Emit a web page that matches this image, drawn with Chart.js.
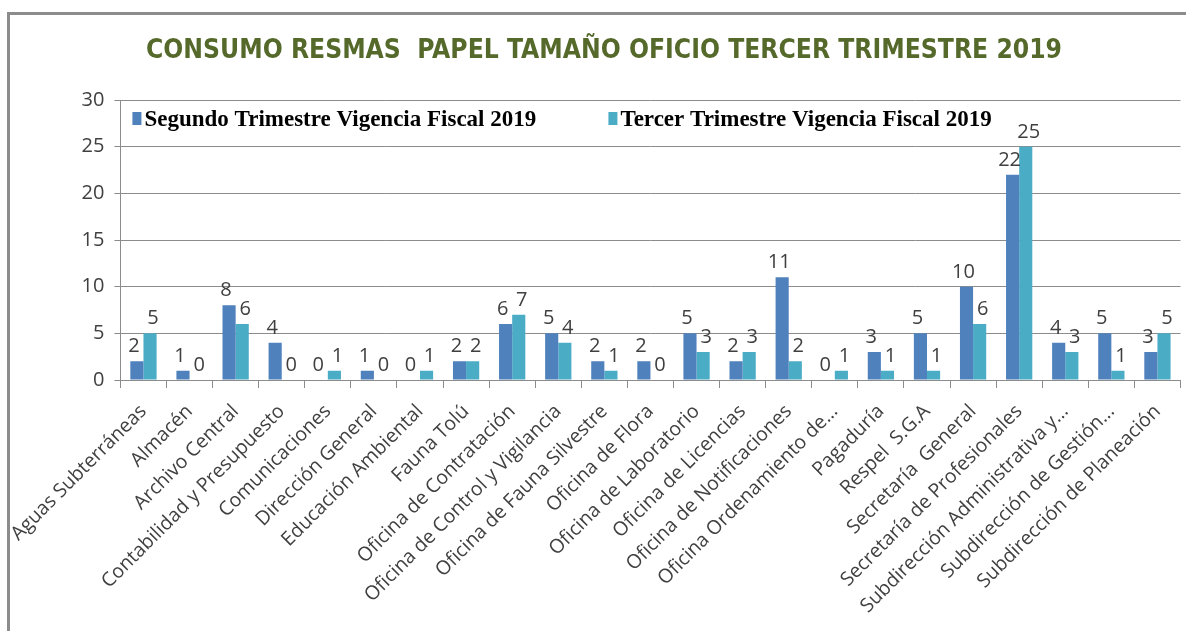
<!DOCTYPE html>
<html>
<head>
<meta charset="utf-8">
<title>Consumo resmas papel tamaño oficio</title>
<script src="https://cdn.jsdelivr.net/npm/chart.js"></script>
<style>
    body { margin: 0; background: #fff; overflow: hidden; }
    #frame { position: absolute; left: 7px; top: 12px; width: 1300px; height: 700px;
             border-left: 3px solid #8c8c8c; border-top: 3px solid #8c8c8c; }
    #chart { position: absolute; left: 0; top: 0; }
</style>
</head>
<body>
<div id="frame"></div>
<canvas id="chart" width="1186" height="631"></canvas>

<script>
    const categories = [
        'Aguas Subterráneas', 'Almacén', 'Archivo Central', 'Contabilidad y Presupuesto',
        'Comunicaciones', 'Dirección General', 'Educación Ambiental', 'Fauna Tolú',
        'Oficina de Contratación', 'Oficina de Control y Vigilancia', 'Oficina de Fauna Silvestre',
        'Oficina de Flora', 'Oficina de Laboratorio', 'Oficina de Licencias',
        'Oficina de Notificaciones', 'Oficina Ordenamiento de...', 'Pagaduría', 'Respel  S.G.A',
        'Secretaría  General', 'Secretaría de Profesionales', 'Subdirección Administrativa y...',
        'Subdirección de Gestión...', 'Subdirección de Planeación'
    ];
    const segundo = [2, 1, 8, 4, 0, 1, 0, 2, 6, 5, 2, 2, 5, 2, 11, 0, 3, 5, 10, 22, 4, 5, 3];
    const tercer  = [5, 0, 6, 0, 1, 0, 1, 2, 7, 4, 1, 0, 3, 3, 2, 1, 1, 1, 6, 25, 3, 1, 5];
    const seriesNames = ['Segundo Trimestre Vigencia Fiscal 2019', 'Tercer Trimestre Vigencia Fiscal 2019'];
    const chartTitle = 'CONSUMO RESMAS  PAPEL TAMAÑO OFICIO TERCER TRIMESTRE 2019';

    const textColor = '#404040';
    const gridColor = '#8c8c8c';
    const labelFont = '"Open Sans", sans-serif';

    // condensed bold title, squeezed to the width of the original
    const narrowTitle = {
        id: 'narrowTitle',
        afterDraw(chart) {
            const ctx = chart.ctx;
            ctx.save();
            ctx.font = 'bold 27px "DejaVu Sans Condensed", "DejaVu Sans", sans-serif';
            const w = ctx.measureText(chartTitle).width;
            ctx.translate(604, 58);
            ctx.scale(916 / w, 1);
            ctx.fillStyle = '#55692B';
            ctx.textAlign = 'center';
            ctx.textBaseline = 'alphabetic';
            ctx.fillText(chartTitle, 0, 0);
            ctx.restore();
        }
    };

    // value labels above every bar
    const valueLabels = {
        id: 'valueLabels',
        afterDatasetsDraw(chart) {
            const ctx = chart.ctx;
            ctx.save();
            ctx.font = '20px ' + labelFont;
            ctx.fillStyle = textColor;
            ctx.textAlign = 'center';
            ctx.textBaseline = 'alphabetic';
            chart.data.datasets.forEach((ds, i) => {
                chart.getDatasetMeta(i).data.forEach((bar, j) => {
                    ctx.fillText(String(ds.data[j]), bar.x + (i === 0 ? -3 : 3), bar.y - 9);
                });
            });
            ctx.restore();
        }
    };

    // legend sits inside the plot, near the top
    const insideLegend = {
        id: 'insideLegend',
        afterDraw(chart) {
            const ctx = chart.ctx;
            const area = chart.chartArea;
            const starts = [area.left + 12, area.left + 488];
            ctx.save();
            ctx.font = 'bold 23px "Liberation Serif", serif';
            ctx.textBaseline = 'alphabetic';
            ctx.textAlign = 'left';
            chart.data.datasets.forEach((ds, i) => {
                const x = starts[i];
                ctx.fillStyle = ds.backgroundColor;
                ctx.fillRect(x, area.top + 12, 9, 13);
                ctx.fillStyle = '#000';
                ctx.fillText(ds.label, x + 12, area.top + 26);
            });
            ctx.restore();
        }
    };

    new Chart(document.getElementById('chart'), {
        type: 'bar',
        data: {
            labels: categories,
            datasets: [
                { label: seriesNames[0], data: segundo, backgroundColor: '#4F81BD' },
                { label: seriesNames[1], data: tercer, backgroundColor: '#4BACC6' }
            ]
        },
        options: {
            responsive: false,
            animation: false,
            layout: { padding: { top: 100, left: 0, right: 2, bottom: 0 } },
            datasets: { bar: { categoryPercentage: 0.57, barPercentage: 1.0 } },
            plugins: {
                legend: { display: false },
                tooltip: { enabled: false },
                title: { display: false }
            },
            scales: {
                x: {
                    afterFit(scale) { scale.height = 251; },
                    grid: { display: true, drawOnChartArea: false, drawTicks: true, tickLength: 8, color: gridColor, offset: true },
                    border: { color: gridColor, width: 1 },
                    ticks: {
                        autoSkip: false, maxRotation: 45, minRotation: 45,
                        color: textColor, padding: 12,
                        font: { family: labelFont, size: 19.5 }
                    }
                },
                y: {
                    min: 0, max: 30,
                    afterFit(scale) { scale.width = 119; },
                    grid: { color: gridColor, tickLength: 6 },
                    border: { color: gridColor, width: 1 },
                    ticks: {
                        stepSize: 5, color: textColor, padding: 10,
                        font: { family: labelFont, size: 20 }
                    }
                }
            }
        },
        plugins: [narrowTitle, valueLabels, insideLegend]
    });
</script>
</body>
</html>
